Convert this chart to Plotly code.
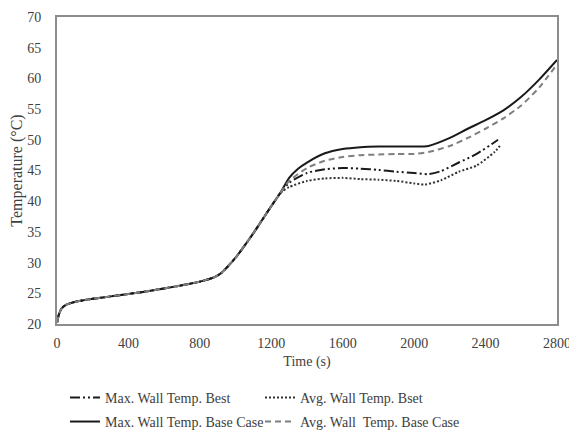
import plotly.graph_objects as go

# Shared early part (all four cases coincide)
t_common = [0, 10, 25, 50, 100, 200, 300, 400, 500, 600, 700, 800, 880, 920, 1000, 1100, 1200, 1250]
T_common = [20.2, 21.5, 22.5, 23.1, 23.6, 24.1, 24.5, 24.9, 25.3, 25.8, 26.3, 26.9, 27.6, 28.3, 30.8, 34.8, 39.2, 41.3]

# Max. Wall Temp. Best
t_max_best = [1300, 1400, 1500, 1600, 1700, 1800, 1900, 2000, 2080, 2150, 2250, 2350, 2450, 2470]
T_max_best = [43.0, 44.6, 45.2, 45.4, 45.3, 45.1, 44.8, 44.6, 44.4, 44.9, 46.3, 47.7, 49.6, 50.0]

# Avg. Wall Temp. Best
t_avg_best = [1300, 1400, 1500, 1600, 1700, 1800, 1900, 2000, 2060, 2150, 2250, 2350, 2450, 2480]
T_avg_best = [42.3, 43.3, 43.7, 43.8, 43.6, 43.5, 43.3, 42.9, 42.7, 43.4, 44.8, 45.8, 48.0, 49.0]

# Max. Wall Temp. Base Case
t_max_base = [1300, 1350, 1400, 1500, 1600, 1700, 1800, 1900, 2000, 2080, 2200, 2300, 2400, 2500, 2600, 2700, 2800]
T_max_base = [43.8, 45.3, 46.3, 47.8, 48.5, 48.8, 48.9, 48.9, 48.9, 49.0, 50.3, 51.8, 53.2, 54.8, 57.0, 59.8, 63.0]

# Avg. Wall Temp. Base Case
t_avg_base = [1300, 1400, 1500, 1600, 1700, 1800, 1900, 2000, 2080, 2200, 2300, 2400, 2500, 2600, 2700, 2800]
T_avg_base = [43.3, 45.4, 46.6, 47.2, 47.5, 47.6, 47.7, 47.7, 48.0, 49.0, 50.3, 51.8, 53.5, 55.6, 58.5, 62.3]

names = ["Max. Wall Temp. Best", "Avg. Wall Temp. Bset",
         "Max. Wall Temp. Base Case", "Avg. Wall  Temp. Base Case"]
x_ticks = [0, 400, 800, 1200, 1600, 2000, 2400, 2800]
y_ticks = [20, 25, 30, 35, 40, 45, 50, 55, 60, 65, 70]

series = [
    (t_max_best, T_max_best, dict(color="#1a1a1a", width=2, dash="10px,3px,2px,3px,2px,3px"), "legend"),
    (t_avg_best, T_avg_best, dict(color="#333333", width=2, dash="2px,2px"), "legend2"),
    (t_max_base, T_max_base, dict(color="#1a1a1a", width=2, dash="solid"), "legend3"),
    (t_avg_base, T_avg_base, dict(color="#7f7f7f", width=2, dash="6px,4px"), "legend4"),
]

fig = go.Figure()
for name, (tx, ty, ln, lg) in zip(names, series):
    fig.add_trace(go.Scatter(
        x=t_common + tx, y=T_common + ty, name=name, mode="lines",
        line=dict(shape="spline", smoothing=0.6, **ln), legend=lg,
    ))

leg_common = dict(
    orientation="h", xanchor="left", yanchor="middle", itemwidth=30,
    font=dict(family="Liberation Serif", size=14, color="#404040"),
    bgcolor="rgba(0,0,0,0)",
)

fig.update_layout(
    width=569, height=429,
    margin=dict(l=49, r=20, t=9, b=113, autoexpand=False),
    paper_bgcolor="white", plot_bgcolor="white",
    font=dict(family="Liberation Serif", size=14, color="#404040"),
    showlegend=True,
    legend=dict(x=0.016, y=-0.241, **leg_common),
    legend2=dict(x=0.406, y=-0.241, **leg_common),
    legend3=dict(x=0.016, y=-0.319, **leg_common),
    legend4=dict(x=0.406, y=-0.319, **leg_common),
)
fig.update_xaxes(
    range=[0, 2800], tickvals=x_ticks, showgrid=False, zeroline=False,
    showline=True, mirror=True, linecolor="#8c8c8c", linewidth=2,
    ticks="", ticklabelstandoff=5,
    title=dict(text="Time (s)", standoff=6,
               font=dict(family="Liberation Serif", size=14, color="#404040")),
)
fig.update_yaxes(
    range=[20, 70], tickvals=y_ticks, showgrid=False, zeroline=False,
    showline=True, mirror=True, linecolor="#8c8c8c", linewidth=2,
    ticks="", ticklabelstandoff=11,
    title=dict(text="Temperature (°C)", standoff=1,
               font=dict(family="Liberation Serif", size=16, color="#404040")),
)

fig.write_html("out.html")
